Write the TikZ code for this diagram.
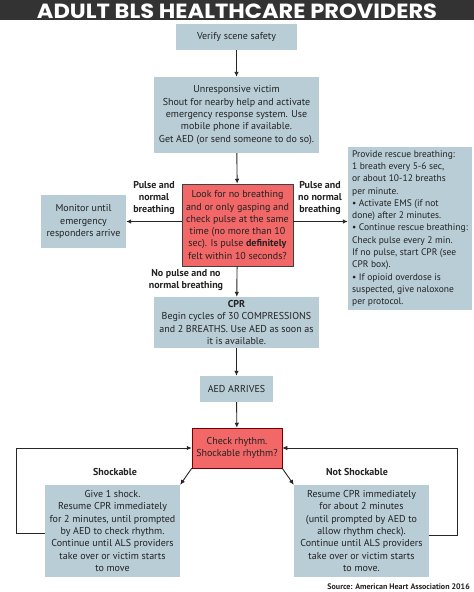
\documentclass[tikz,border=0pt]{standalone}
\usepackage{fontspec}
\setmainfont{PT Sans}
\newfontfamily\titlefont{Poppins}[UprightFont=* Bold]
\usetikzlibrary{arrows.meta,calc}
\definecolor{boxblue}{HTML}{B8CDD6}
\definecolor{boxred}{HTML}{F26767}
\definecolor{bar}{HTML}{333333}
\definecolor{txt}{HTML}{222222}
\begin{document}
\begin{tikzpicture}[x=1pt,y=-1pt,
  every node/.style={inner sep=0pt,font=\fontsize{10}{12.3}\selectfont,text=txt},
  bbox/.style={fill=boxblue,align=center},
  rbox/.style={fill=boxred,draw=black!75,line width=0.5pt,align=center},
  lbl/.style={font=\fontsize{10}{11.8}\selectfont\bfseries,align=center},
  arr/.style={-{Latex[length=5pt,width=4.5pt]},line width=0.9pt,draw=black!85},
  ln/.style={line width=0.9pt,draw=black!85}]
\useasboundingbox (0,0) rectangle (474,592);
\fill[white] (0,0) rectangle (474,592);
\node[fill=bar,minimum width=474pt,minimum height=19.5pt,anchor=north west] (bar) at (0,0) {};
\node[text=white,font=\titlefont\fontsize{20.5}{20.5}\selectfont] (title) at (237,10.8) {\scalebox{1.1}[1]{ADULT BLS HEALTHCARE PROVIDERS}};
\node[bbox,minimum width=121pt,minimum height=26pt] (verify) at (236.5,37) {Verify scene safety};
\node[bbox,minimum width=165pt,minimum height=76pt] (unresp) at (236.5,115) {Unresponsive victim\\Shout for nearby help and activate\\emergency response system. Use\\mobile phone if available.\\Get AED (or send someone to do so).};
\node[rbox,minimum width=111pt,minimum height=82pt] (look) at (237.5,225) {Look for no breathing\\and or only gasping and\\check pulse at the same\\time (no more than 10\\sec). Is pulse \textbf{definitely}\\felt within 10 seconds?};
\node[bbox,minimum width=85pt,minimum height=53pt] (monitor) at (83.5,221.5) {Monitor until\\emergency\\responders arrive};
\node[bbox,minimum width=124pt,minimum height=163pt,align=left,font=\fontsize{9.5}{12.3}\selectfont] (rescue) at (410,228.5) {Provide rescue breathing:\\1 breath every 5-6 sec,\\or about 10-12 breaths\\per minute.\\• Activate EMS (if not\\done) after 2 minutes.\\• Continue rescue breathing:\\Check pulse every 2 min.\\If no pulse, start CPR (see\\CPR box).\\• If opioid overdose is\\suspected, give naloxone\\per protocol.};
\node[bbox,minimum width=165pt,minimum height=51pt] (cpr) at (236.5,322.5) {\textbf{CPR}\\Begin cycles of 30 COMPRESSIONS\\and 2 BREATHS. Use AED as soon as\\it is available.};
\node[bbox,minimum width=73pt,minimum height=26pt] (aed) at (236.5,389) {AED ARRIVES};
\node[rbox,draw=red!45!black,minimum width=90pt,minimum height=40pt] (check) at (237,448) {Check rhythm.\\Shockable rhythm?};
\node[bbox,minimum width=135pt,minimum height=92pt] (shock) at (112.5,531) {Give 1 shock.\\Resume CPR immediately\\for 2 minutes, until prompted\\by AED to check rhythm.\\Continue until ALS providers\\take over or victim starts\\to move};
\node[bbox,minimum width=135pt,minimum height=92pt] (noshock) at (361.5,531) {Resume CPR immediately\\for about 2 minutes\\(until prompted by AED to\\allow rhythm check).\\Continue until ALS providers\\take over or victim starts\\to move.};
\node[lbl] (l1) at (154,198) {Pulse and\\normal\\breathing};
\node[lbl] (l2) at (320,198) {Pulse and\\no normal\\breathing};
\node[lbl] (l3) at (186,280) {No pulse and no\\normal breathing};
\node[lbl] (l4) at (115,472) {Shockable};
\node[lbl] (l5) at (357,472) {Not Shockable};
\node[font=\fontsize{8}{9}\selectfont\bfseries,anchor=east] (src) at (470,587) {Source: American Heart Association 2016};
\draw[arr] (verify) -- (unresp);
\draw[arr] (unresp) -- (look);
\draw[arr] (look.west |- monitor.east) -- (monitor.east);
\draw[arr] (look.east |- monitor.east) -- (rescue.west |- monitor.east);
\draw[arr] (look) -- (cpr);
\draw[arr] (cpr) -- (aed);
\draw[arr] (aed) -- (check);
\draw[arr] (check.south west) -- (shock.north east);
\draw[arr] (check.south east) -- (noshock.north west);
\coordinate (lc) at ($(shock.west)+(-28,2)$);
\coordinate (rc) at ($(noshock.east)+(28,4)$);
\draw[arr] (shock.west |- lc) -- (lc) |- (check.west);
\draw[arr] (noshock.east |- rc) -- (rc) |- (check.east);
\end{tikzpicture}
\end{document}
